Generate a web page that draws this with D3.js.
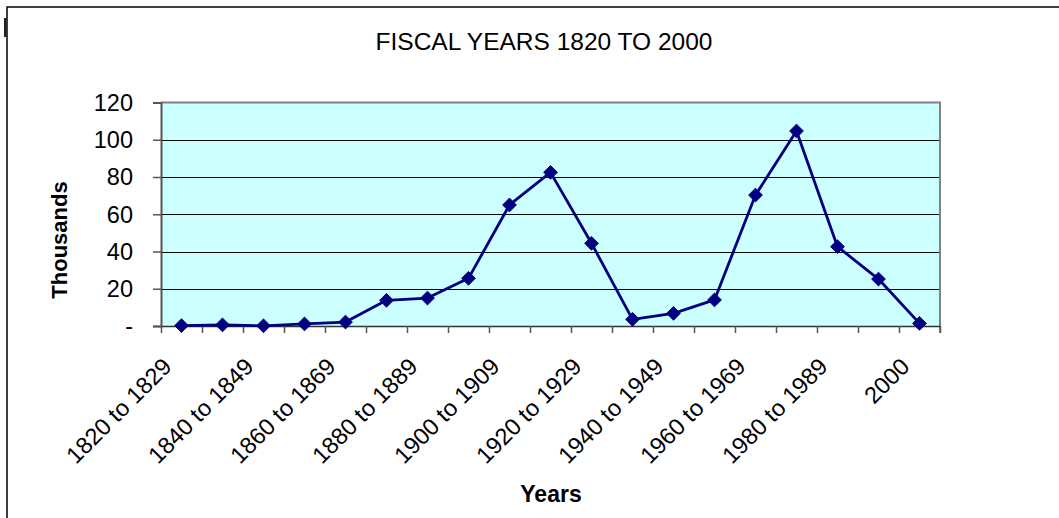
<!DOCTYPE html>
<html>
<head>
<meta charset="utf-8">
<script src="https://cdn.jsdelivr.net/npm/d3@7"></script>
<style>
  html, body { margin: 0; padding: 0; background: #fff; }
  svg { display: block; }
  text { font-family: "Liberation Sans", Arial, sans-serif; fill: #000; }
</style>
</head>
<body>
<script>
// Decade categories and values (thousands)
const categories = [
  "1820 to 1829", "1830 to 1839", "1840 to 1849", "1850 to 1859", "1860 to 1869",
  "1870 to 1879", "1880 to 1889", "1890 to 1899", "1900 to 1909", "1910 to 1919",
  "1920 to 1929", "1930 to 1939", "1940 to 1949", "1950 to 1959", "1960 to 1969",
  "1970 to 1979", "1980 to 1989", "1990 to 1999", "2000"
];
const values = [0.2, 0.6, 0.1, 1.1, 2.1, 13.8, 15.0, 25.6, 65.0, 82.5, 44.4, 3.6, 6.8, 14.0, 70.3, 104.7, 42.6, 25.2, 1.4];
const yTicks = [0, 20, 40, 60, 80, 100, 120];
const yTickLabels = ["-", "20", "40", "60", "80", "100", "120"];
const title = "FISCAL YEARS 1820 TO 2000";
const xTitle = "Years";
const yTitle = "Thousands";

const W = 1059, H = 518;
const plot = { left: 161, right: 940, top: 102.5, bottom: 326 };

const svg = d3.select("body").append("svg").attr("width", W).attr("height", H);

// Chart frame
svg.append("rect").attr("x", 7).attr("y", 7).attr("width", 1080).attr("height", 540)
  .attr("fill", "#fff").attr("stroke", "#000").attr("stroke-width", 1.5);
svg.append("rect").attr("x", 4).attr("y", 18).attr("width", 2.5).attr("height", 19).attr("fill", "#222");

const x = d3.scaleBand().domain(categories).range([plot.left, plot.right]).padding(0);
const xEdge = d3.scaleLinear().domain([0, categories.length]).range([plot.left, plot.right]);
const y = d3.scaleLinear().domain([0, 120]).range([plot.bottom, plot.top]);

// Plot area background
svg.append("rect")
  .attr("x", plot.left).attr("y", plot.top)
  .attr("width", plot.right - plot.left).attr("height", plot.bottom - plot.top)
  .attr("fill", "#CCFFFF");

// Horizontal gridlines
svg.append("g").selectAll("line").data(yTicks.filter(t => t > 0 && t < 120)).join("line")
  .attr("x1", plot.left).attr("x2", plot.right)
  .attr("y1", d => Math.round(y(d)) + 0.5).attr("y2", d => Math.round(y(d)) + 0.5)
  .attr("stroke", "#000").attr("stroke-width", 1);

// Plot area border (top and right)
svg.append("path")
  .attr("d", `M${plot.left},${plot.top}H${plot.right}V${plot.bottom + 7}`)
  .attr("fill", "none").attr("stroke", "#808080").attr("stroke-width", 2);

// Y axis
const yAxis = d3.axisLeft(y).tickValues(yTicks).tickSize(8).tickFormat("");
const gy = svg.append("g").attr("transform", `translate(${plot.left},0)`).call(yAxis);
gy.select(".domain").attr("stroke", "#555").attr("stroke-width", 2);
gy.selectAll(".tick line").attr("stroke", "#555").attr("stroke-width", 1.5);

svg.append("g").selectAll("text").data(yTicks).join("text")
  .attr("x", 133).attr("y", d => y(d)).attr("dy", "0.36em")
  .attr("text-anchor", "end").attr("font-size", 23.5)
  .text((d, i) => yTickLabels[i]);

// X axis: tick marks at category boundaries
const xAxis = d3.axisBottom(xEdge).tickValues(d3.range(categories.length + 1)).tickSize(7).tickFormat("").tickSizeOuter(0);
const gx = svg.append("g").attr("transform", `translate(0,${plot.bottom})`).call(xAxis);
gx.select(".domain").attr("stroke", "#333").attr("stroke-width", 1.5);
gx.selectAll(".tick line").attr("stroke", "#555").attr("stroke-width", 1.5);

// Rotated category labels (every other category)
svg.append("g").selectAll("text")
  .data(categories.filter((c, i) => i % 2 === 0)).join("text")
  .attr("transform", d => `translate(${x(d) + x.bandwidth() / 2 - 8.5},368) rotate(-45)`)
  .attr("text-anchor", "end").attr("font-size", 23.5)
  .text(d => d);

// Series line
const cx = d => x(d) + x.bandwidth() / 2;
const line = d3.line().x((d, i) => cx(categories[i])).y(d => y(d));
svg.append("path").datum(values)
  .attr("d", line).attr("fill", "none")
  .attr("stroke", "#000080").attr("stroke-width", 2.8).attr("stroke-linejoin", "round");

// Diamond markers
const diamond = d3.symbol().type(d3.symbolDiamond2).size(120);
svg.append("g").selectAll("path").data(values).join("path")
  .attr("transform", (d, i) => `translate(${cx(categories[i])},${y(d)})`)
  .attr("d", diamond).attr("fill", "#000080").attr("stroke", "#000080").attr("stroke-width", 1);

// Titles
svg.append("text").attr("x", 544).attr("y", 50).attr("text-anchor", "middle")
  .attr("font-size", 24.5).text(title);
svg.append("text").attr("x", 551).attr("y", 502).attr("text-anchor", "middle")
  .attr("font-size", 23).attr("font-weight", "bold").text(xTitle);
svg.append("text").attr("transform", "translate(67,240) rotate(-90)")
  .attr("text-anchor", "middle").attr("font-size", 22).attr("font-weight", "bold").text(yTitle);
</script>
</body>
</html>
